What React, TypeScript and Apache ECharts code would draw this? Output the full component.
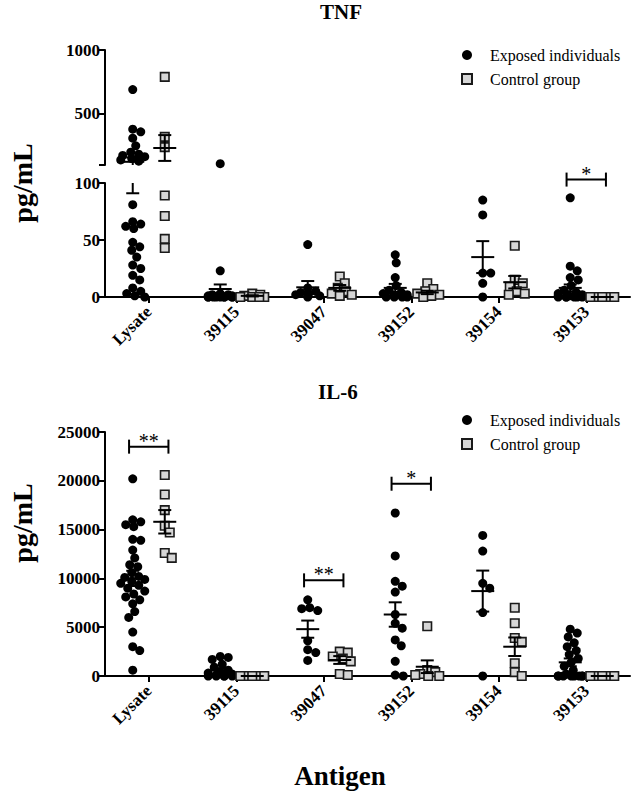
import React, { useEffect, useRef } from 'react';
import * as echarts from 'echarts';

// ---------- data ----------
const categories = ['Lysate', '39115', '39047', '39152', '39154', '39153'];
const groupNames = ['Exposed individuals', 'Control group'];

// TNF (pg/mL)
const tnfExposed: number[][] = [
  [690, 380, 360, 310, 250, 200, 185, 175, 165, 150, 140, 130, 81, 66, 64, 62, 60, 48, 44, 41, 35, 28, 25, 19, 15, 8, 5, 3, 1, 0],
  [110, 23, 3, 2, 2, 1, 1, 1, 1, 0, 0, 0, 0, 0, 0, 0, 0, 0],
  [46, 8, 5, 4, 3, 2, 1, 0],
  [37, 30, 17, 10, 6, 4, 3, 2, 1, 0, 0, 0, 0],
  [85, 72, 21, 21, 12, 0],
  [87, 27, 23, 17, 15, 10, 6, 4, 3, 2, 1, 1, 0, 0, 0, 0, 0, 0],
];
const tnfControl: number[][] = [
  [790, 320, 240, 89, 71, 51, 43],
  [3, 2, 1, 0, 0, 0, 0],
  [18, 12, 8, 5, 3, 2, 1],
  [12, 7, 5, 3, 2, 1, 0],
  [45, 15, 12, 9, 5, 3, 2],
  [0, 0, 0, 0, 0, 0],
];
const tnfExposedMean = [125, 7, 8.5, 8, 35, 8];
const tnfExposedSem = [34, 4, 5.5, 3.5, 14, 3];
const tnfControlMean = [233, 1, 8, 4, 13, 0];
const tnfControlSem = [101, 0.5, 2.5, 1.5, 5.5, 0];
const tnfSigCategory = [5];
const tnfSigValue = [103];
const tnfSigLabel = ['*'];

// IL-6 (pg/mL)
const il6Exposed: number[][] = [
  [20200, 16000, 15800, 15500, 15300, 14000, 13900, 12900, 12100, 11400, 11200, 10600, 10200, 10100, 9900, 9700, 9500, 9300, 9000, 8700, 8400, 8100, 7800, 7400, 6600, 6000, 4500, 3000, 2600, 600],
  [2000, 1900, 1700, 1200, 900, 600, 400, 300, 200, 100, 0, 0, 0, 0, 0],
  [7800, 7000, 6900, 6700, 3600, 2700, 2400, 1600],
  [16700, 12300, 9700, 9200, 8600, 6300, 5400, 4900, 3700, 3100, 1500, 100, 0],
  [14400, 12800, 9500, 9000, 6500, 0],
  [4800, 4400, 4000, 3400, 3000, 2600, 2200, 1800, 1400, 1000, 600, 200, 0, 0, 0, 0, 0, 0, 0, 0],
];
const il6Control: number[][] = [
  [20600, 18600, 17000, 15400, 14700, 12600, 12100],
  [0, 0, 0, 0, 0, 0],
  [2500, 2400, 2000, 1800, 1500, 200, 100],
  [5100, 600, 400, 200, 100, 0, 0],
  [7000, 5400, 3900, 3500, 1300, 400, 0],
  [0, 0, 0, 0, 0, 0],
];
const il6ExposedMean = [10000, 600, 4800, 6300, 8700, 1400];
const il6ExposedSem = [780, 200, 880, 1250, 2100, 400];
const il6ControlMean = [15800, 0, 1640, 950, 3000, 0];
const il6ControlSem = [1200, 0, 400, 650, 950, 0];
const il6SigCategory = [0, 2, 3];
const il6SigValue = [23500, 9800, 19700];
const il6SigLabel = ['**', '**', '*'];

const tnfUpperTicks = [100, 500, 1000];
const tnfUpperLabels = [500, 1000];

// ---------- layout ----------
const FONT = '"Liberation Serif", "Times New Roman", serif';
const G_LEFT = 105;
const G_WIDTH = 525;
const BAND = G_WIDTH / categories.length;
const SHIFT = 0.183;
const TNF_UP = { top: 50, height: 115, min: 100, max: 1000 };
const TNF_LOW = { top: 183, height: 114, min: 0, max: 100 };
const IL6 = { top: 432, height: 244, min: 0, max: 25000 };

const tnfPx = (v: number) =>
  v > TNF_LOW.max
    ? TNF_UP.top + TNF_UP.height * (1 - (v - TNF_UP.min) / (TNF_UP.max - TNF_UP.min))
    : TNF_LOW.top + TNF_LOW.height * (1 - v / TNF_LOW.max);
const il6Px = (v: number) => IL6.top + IL6.height * (1 - v / IL6.max);

function swarmOffsets(ys: number[], diam: number, maxW: number): number[] {
  const idx = ys.map((_, i) => i).sort((a, b) => ys[a] - ys[b]);
  const placed: [number, number][] = [];
  const res = new Array(ys.length).fill(0);
  for (const i of idx) {
    let best = 0;
    let bestScore = Infinity;
    for (let k = 0; k <= 2 * maxW; k++) {
      const dx = k === 0 ? 0 : k % 2 === 1 ? (k + 1) / 2 : -k / 2;
      let score = 0;
      for (const [px, py] of placed) {
        const d = Math.hypot(px - dx, py - ys[i]);
        if (d < diam) score += diam - d;
      }
      if (score < bestScore - 1e-6) {
        bestScore = score;
        best = dx;
      }
      if (score === 0) break;
    }
    placed.push([best, ys[i]]);
    res[i] = best;
  }
  return res;
}

function groupPoints(groups: number[][], side: number, toPx: (v: number) => number) {
  const pts: { x: number; v: number }[] = [];
  groups.forEach((vals, c) => {
    const offs = swarmOffsets(vals.map(toPx), 8, 12);
    vals.forEach((v, k) => pts.push({ x: c + 0.5 + side * SHIFT + offs[k] / BAND, v }));
  });
  return pts;
}

const exposedStyle = { symbol: 'circle', symbolSize: 9, itemStyle: { color: '#000', opacity: 1 } };
const controlStyle = {
  symbol: 'rect',
  symbolSize: 8.5,
  itemStyle: { color: '#d6d6d6', borderColor: '#1a1a1a', borderWidth: 1.6, opacity: 1 },
};

function errorBarSeries(xAxisIndex: number, yAxisIndex: number, ymin: number, ymax: number, means: number[][], sems: number[][]) {
  const data: number[][] = [];
  means.forEach((arr, g) =>
    arr.forEach((m, c) => data.push([c + 0.5 + (g === 0 ? -SHIFT : SHIFT), m, sems[g][c]]))
  );
  return {
    type: 'custom',
    xAxisIndex,
    yAxisIndex,
    z: 5,
    silent: true,
    data,
    renderItem: (_p: any, api: any) => {
      const x = api.value(0);
      const m = api.value(1);
      const s = api.value(2);
      const lo = m - s;
      const hi = m + s;
      const children: any[] = [];
      const st = { stroke: '#000', lineWidth: 2 };
      const hline = (v: number, half: number) => {
        const p = api.coord([x, v]);
        children.push({ type: 'line', shape: { x1: p[0] - half, y1: p[1], x2: p[0] + half, y2: p[1] }, style: st });
      };
      const a = Math.max(lo, ymin);
      const b = Math.min(hi, ymax);
      if (b > a) {
        const p1 = api.coord([x, a]);
        const p2 = api.coord([x, b]);
        children.push({ type: 'line', shape: { x1: p1[0], y1: p1[1], x2: p2[0], y2: p2[1] }, style: st });
      }
      if (s > 0 && hi >= ymin && hi <= ymax) hline(hi, 6.5);
      if (s > 0 && lo >= ymin && lo <= ymax) hline(lo, 6.5);
      if (m >= ymin && m <= ymax) hline(m, 11.5);
      return { type: 'group', children };
    },
  };
}

function sigSeries(xAxisIndex: number, yAxisIndex: number, cats: number[], vals: number[], labels: string[]) {
  return {
    type: 'custom',
    xAxisIndex,
    yAxisIndex,
    z: 6,
    silent: true,
    clip: false,
    data: cats.map((c, i) => [c + 0.5 - 0.225, c + 0.5 + 0.225, vals[i]]),
    renderItem: (params: any, api: any) => {
      const p1 = api.coord([api.value(0), api.value(2)]);
      const p2 = api.coord([api.value(1), api.value(2)]);
      const st = { stroke: '#000', lineWidth: 2 };
      return {
        type: 'group',
        children: [
          { type: 'line', shape: { x1: p1[0], y1: p1[1], x2: p2[0], y2: p2[1] }, style: st },
          { type: 'line', shape: { x1: p1[0], y1: p1[1] - 7, x2: p1[0], y2: p1[1] + 7 }, style: st },
          { type: 'line', shape: { x1: p2[0], y1: p2[1] - 7, x2: p2[0], y2: p2[1] + 7 }, style: st },
          {
            type: 'text',
            x: (p1[0] + p2[0]) / 2,
            y: p1[1] + 4,
            style: {
              text: labels[params.dataIndex],
              fontFamily: FONT,
              fontSize: 20,
              fill: '#000',
              align: 'center',
              verticalAlign: 'bottom',
            },
          },
        ],
      };
    },
  };
}

function buildOption() {
  const labelStyle = { fontFamily: FONT, fontWeight: 'bold', fontSize: 17, color: '#000' };
  const axisLine = { show: true, lineStyle: { color: '#000', width: 2 } };
  const axisTick = { show: true, length: 6, lineStyle: { color: '#000', width: 2 } };
  const fmt = (v: number) => String(v);

  const catAxis = (gridIndex: number) => ({
    type: 'category',
    gridIndex,
    position: 'bottom',
    data: categories,
    boundaryGap: true,
    axisLine,
    axisTick: { show: true, length: 6, lineStyle: { color: '#000', width: 2 }, alignWithLabel: true },
    axisLabel: {
      show: true,
      rotate: 45,
      interval: 0,
      margin: 12,
      fontFamily: FONT,
      fontWeight: 'bold',
      fontSize: 17,
      color: '#000',
    },
    splitLine: { show: false },
  });
  const hiddenX = (gridIndex: number) => ({ type: 'value', gridIndex, position: 'top', min: 0, max: 6, show: false });

  const tnfE = groupPoints(tnfExposed, -1, tnfPx);
  const tnfC = groupPoints(tnfControl, 1, tnfPx);
  const il6E = groupPoints(il6Exposed, -1, il6Px);
  const il6C = groupPoints(il6Control, 1, il6Px);
  const up = (pts: { x: number; v: number }[]) => pts.filter((p) => p.v > TNF_LOW.max).map((p) => [p.x, p.v]);
  const low = (pts: { x: number; v: number }[]) => pts.filter((p) => p.v <= TNF_LOW.max).map((p) => [p.x, p.v]);

  const legendBase = {
    orient: 'vertical',
    left: 456,
    itemWidth: 10,
    itemHeight: 10,
    itemGap: 8,
    selectedMode: false,
    data: groupNames,
    textStyle: { fontFamily: FONT, fontSize: 16, color: '#000', lineHeight: 16, padding: [0, 0, 0, 13] },
  };

  return {
    animation: false,
    backgroundColor: '#fff',
    title: [
      { text: 'TNF', left: 320, top: 1, padding: 0, textStyle: { fontFamily: FONT, fontWeight: 'bold', fontSize: 21, color: '#000' } },
      { text: 'IL-6', left: 318, top: 381, padding: 0, textStyle: { fontFamily: FONT, fontWeight: 'bold', fontSize: 21, color: '#000' } },
    ],
    legend: [
      { ...legendBase, top: 42 },
      { ...legendBase, top: 407 },
    ],
    grid: [
      { left: G_LEFT, width: G_WIDTH, top: TNF_UP.top, height: TNF_UP.height },
      { left: G_LEFT, width: G_WIDTH, top: TNF_LOW.top, height: TNF_LOW.height },
      { left: G_LEFT, width: G_WIDTH, top: IL6.top, height: IL6.height },
    ],
    xAxis: [hiddenX(0), hiddenX(1), catAxis(1), hiddenX(2), catAxis(2)],
    yAxis: [
      {
        type: 'value',
        gridIndex: 0,
        min: TNF_UP.min,
        max: TNF_UP.max,
        axisLine,
        axisTick: { ...axisTick, customValues: tnfUpperTicks },
        axisLabel: { ...labelStyle, margin: 5, formatter: fmt, customValues: tnfUpperLabels },
        splitLine: { show: false },
      },
      {
        type: 'value',
        gridIndex: 1,
        min: TNF_LOW.min,
        max: TNF_LOW.max,
        interval: 50,
        axisLine,
        axisTick,
        axisLabel: { ...labelStyle, margin: 5, formatter: fmt },
        splitLine: { show: false },
      },
      {
        type: 'value',
        gridIndex: 2,
        min: IL6.min,
        max: IL6.max,
        interval: 5000,
        axisLine,
        axisTick,
        axisLabel: { ...labelStyle, margin: 5, formatter: fmt },
        splitLine: { show: false },
      },
    ],
    graphic: [
      {
        type: 'text',
        x: 22,
        y: 183,
        rotation: Math.PI / 2,
        style: { text: 'pg/mL', fontFamily: FONT, fontWeight: 'bold', fontSize: 28, fill: '#000', align: 'center', verticalAlign: 'middle' },
      },
      {
        type: 'text',
        x: 22,
        y: 523,
        rotation: Math.PI / 2,
        style: { text: 'pg/mL', fontFamily: FONT, fontWeight: 'bold', fontSize: 28, fill: '#000', align: 'center', verticalAlign: 'middle' },
      },
      {
        type: 'text',
        x: 340,
        y: 776,
        style: { text: 'Antigen', fontFamily: FONT, fontWeight: 'bold', fontSize: 27, fill: '#000', align: 'center', verticalAlign: 'middle' },
      },
    ],
    series: [
      { type: 'scatter', name: groupNames[0], xAxisIndex: 0, yAxisIndex: 0, z: 2, data: up(tnfE), ...exposedStyle },
      { type: 'scatter', name: groupNames[0], xAxisIndex: 1, yAxisIndex: 1, z: 2, data: low(tnfE), ...exposedStyle },
      { type: 'scatter', name: groupNames[1], xAxisIndex: 0, yAxisIndex: 0, z: 2, data: up(tnfC), ...controlStyle },
      { type: 'scatter', name: groupNames[1], xAxisIndex: 1, yAxisIndex: 1, z: 2, data: low(tnfC), ...controlStyle },
      { type: 'scatter', name: groupNames[0], xAxisIndex: 3, yAxisIndex: 2, z: 2, data: il6E.map((p) => [p.x, p.v]), ...exposedStyle },
      { type: 'scatter', name: groupNames[1], xAxisIndex: 3, yAxisIndex: 2, z: 2, data: il6C.map((p) => [p.x, p.v]), ...controlStyle },
      errorBarSeries(0, 0, TNF_UP.min, TNF_UP.max, [tnfExposedMean, tnfControlMean], [tnfExposedSem, tnfControlSem]),
      errorBarSeries(1, 1, TNF_LOW.min, TNF_LOW.max, [tnfExposedMean, tnfControlMean], [tnfExposedSem, tnfControlSem]),
      errorBarSeries(3, 2, IL6.min, IL6.max, [il6ExposedMean, il6ControlMean], [il6ExposedSem, il6ControlSem]),
      sigSeries(1, 1, tnfSigCategory, tnfSigValue, tnfSigLabel),
      sigSeries(3, 2, il6SigCategory, il6SigValue, il6SigLabel),
    ],
  };
}

export default function App() {
  const ref = useRef<HTMLDivElement>(null);
  useEffect(() => {
    if (!ref.current) return;
    const chart = echarts.init(ref.current, null, { renderer: 'svg' });
    chart.setOption(buildOption() as any);
    return () => chart.dispose();
  }, []);
  return (
    <div
      ref={ref}
      style={{ position: 'fixed', left: 0, top: 0, width: 638, height: 792, background: '#fff' }}
    />
  );
}
